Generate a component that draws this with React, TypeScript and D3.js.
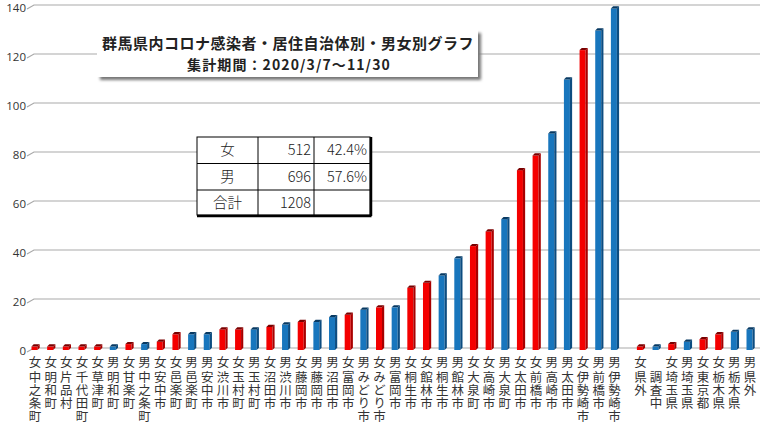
import React from "react";
import * as d3 from "d3";

const sexes = ["女","女","女","女","女","男","女","男","女","女","男","男","女","女","男","女","男","女","男","男","女","男","女","男","女","女","男","男","女","女","男","女","女","男","男","女","男","男","女","","女","男","女","女","男","男"];
const places = ["中之条町","明和町","片品村","千代田町","草津町","明和町","甘楽町","中之条町","安中市","邑楽町","邑楽町","安中市","渋川市","玉村町","玉村町","沼田市","渋川市","藤岡市","藤岡市","沼田市","富岡市","みどり市","みどり市","富岡市","桐生市","館林市","桐生市","館林市","大泉町","高崎市","大泉町","太田市","前橋市","高崎市","太田市","伊勢崎市","前橋市","伊勢崎市","県外","調査中","埼玉県","埼玉県","東京都","栃木県","栃木県","県外"];
const counts = [1,1,1,1,1,1,2,2,3,6,6,6,8,8,8,9,10,11,11,13,14,16,17,17,25,27,30,37,42,48,53,73,79,88,110,122,130,139,1,1,2,3,4,6,7,8];
const yTicks = [0,20,40,60,80,100,120,140];
const titleLines = ["群馬県内コロナ感染者・居住自治体別・男女別グラフ","集計期間：2020/3/7～11/30"];
const tableRows = [["女","512","42.4%"],["男","696","57.6%"],["合計","1208",""]];

const W = 760, H = 424;
const GAP = 0.66; // extra slot space between prefecture municipalities and others
const inPrefCount = 38;

export default function App() {
  const y = d3.scaleLinear().domain([0, 140]).range([348, 5]);
  const slot = (i: number) => (i < inPrefCount ? i : i + GAP);
  const x = d3.scaleLinear().domain([0, counts.length - 1 + GAP]).range([35, 750]);
  const red = { front: "#f40000", side: "#a80000", top: "#7a0000" };
  const blue = { front: "#1876bd", side: "#0c4c80", top: "#083a63" };
  const jp = "'Noto Sans CJK JP', 'Noto Sans', sans-serif";
  const fw = 6, dx = 2.2, dy = 2.2;

  const tx0 = 197, tcols = [197, 258, 314, 370], trows = [137, 163.5, 190, 215];

  return (
    <svg width={W} height={H} style={{ position: "absolute", left: 0, top: 0, background: "#fff" }}>
      <defs>
        <filter id="sh" x="-10%" y="-20%" width="130%" height="150%">
          <feGaussianBlur stdDeviation="1.5" />
        </filter>
      </defs>
      {yTicks.map((t) => (
        <g key={t}>
          <path d={`M27,${y(t) + 4} L34,${y(t)} H${W}`} fill="none" stroke="#a9a9a9" strokeWidth={1.2} />
          <text x={26} y={y(t) + 7} textAnchor="end" fontSize={11.5} fill="#333" fontFamily="'Open Sans', 'DejaVu Sans', sans-serif">{t}</text>
        </g>
      ))}
      {counts.map((v, i) => {
        const cx = x(slot(i));
        const c = sexes[i] === "女" ? red : blue;
        const x0 = cx - 3.5, x1 = x0 + fw;
        const yt = y(v) + 1, yb = y(0) + 2;
        return (
          <g key={i}>
            <rect x={x0} y={yt} width={fw} height={yb - yt} fill={c.front} />
            <polygon points={`${x1},${yt} ${x1 + dx},${yt - dy} ${x1 + dx},${yb - dy} ${x1},${yb}`} fill={c.side} />
            <polygon points={`${x0},${yt} ${x0 + dx},${yt - dy} ${x1 + dx},${yt - dy} ${x1},${yt}`} fill={c.top} />
          </g>
        );
      })}
      {counts.map((_, i) => {
        const cx = x(slot(i));
        return (
          <g key={"l" + i} fontFamily={jp} fontSize={12.5} fill="#333">
            {sexes[i] && <text x={cx} y={366.5} textAnchor="middle">{sexes[i]}</text>}
            <text x={cx} y={370.5} style={{ writingMode: "vertical-rl", textOrientation: "upright" } as any} letterSpacing={0.8}>{places[i]}</text>
          </g>
        );
      })}
      <rect x={100} y={33} width={381} height={47} fill="#777" filter="url(#sh)" />
      <rect x={97} y={30} width={381} height={47} fill="#fff" />
      <text x={288} y={49} textAnchor="middle" fontFamily={jp} fontWeight={700} fontSize={15} letterSpacing={0.5} fill="#222">{titleLines[0]}</text>
      <text x={289} y={70} textAnchor="middle" fontFamily={jp} fontWeight={700} fontSize={14} letterSpacing={1.1} fill="#222">{titleLines[1]}</text>
      <rect x={tx0} y={trows[0]} width={tcols[3] - tx0} height={trows[3] - trows[0]} fill="#fff" stroke="#000" strokeWidth={1} />
      <line x1={tx0} y1={trows[3] + 1} x2={tcols[3] + 1.5} y2={trows[3] + 1} stroke="#000" strokeWidth={2.5} />
      <line x1={tcols[3] + 1} y1={trows[0]} x2={tcols[3] + 1} y2={trows[3] + 1} stroke="#000" strokeWidth={2.5} />
      {tcols.slice(1, 3).map((cx) => (
        <line key={cx} x1={cx} y1={trows[0]} x2={cx} y2={trows[3]} stroke="#000" strokeWidth={1} />
      ))}
      {trows.slice(1, 3).map((ry) => (
        <line key={ry} x1={tx0} y1={ry} x2={tcols[3]} y2={ry} stroke="#000" strokeWidth={1} />
      ))}
      {tableRows.map((r, ri) => {
        const cy = (trows[ri] + trows[ri + 1]) / 2 + 5;
        return (
          <g key={ri} fontFamily={"'Noto Sans CJK JP', sans-serif"} fontSize={14.5} fill="#222" fontWeight={300}>
            <text x={(tcols[0] + tcols[1]) / 2} y={cy} textAnchor="middle">{r[0]}</text>
            <text x={tcols[2] - 3} y={cy} textAnchor="end">{r[1]}</text>
            <text x={tcols[3] - 3} y={cy} textAnchor="end">{r[2]}</text>
          </g>
        );
      })}
    </svg>
  );
}
